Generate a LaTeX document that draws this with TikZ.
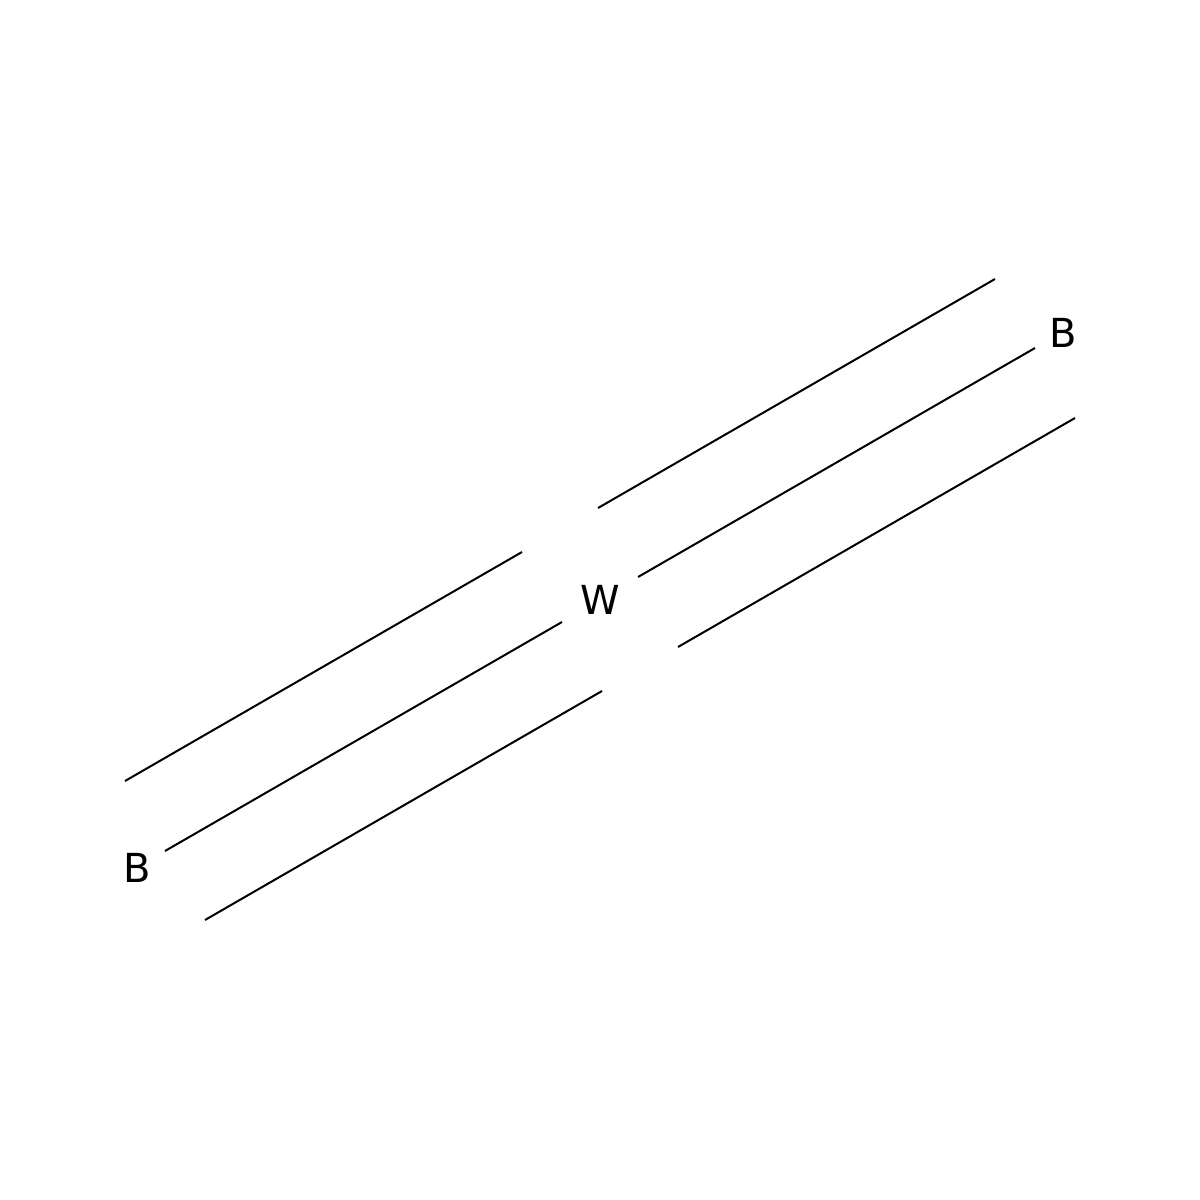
\documentclass[tikz,border=0pt]{standalone}
\usepackage{fontspec}
\setmainfont{DejaVu Sans}
\begin{document}
\begin{tikzpicture}[x=1pt,y=-1pt,
  atom/.style={inner sep=0pt,font=\fontsize{40}{40}\selectfont},
  bond/.style={line width=2pt,draw=black}]
\useasboundingbox (0,0) rectangle (1200,1200);
\node[atom] (B1) at (1063,333) {B};
\node[atom] (W) at (600,600) {W};
\node[atom] (B2) at (137,868) {B};
% right triple bond
\coordinate (r1a) at (598,508); \coordinate (r1b) at (995,279);
\coordinate (r2a) at (638,577); \coordinate (r2b) at (1035,348);
\coordinate (r3a) at (678,647); \coordinate (r3b) at (1075,418);
% left triple bond
\coordinate (l1a) at (125,781); \coordinate (l1b) at (522,552);
\coordinate (l2a) at (165,851); \coordinate (l2b) at (562,622);
\coordinate (l3a) at (205,920); \coordinate (l3b) at (602,691);
\draw[bond] (r1a) -- (r1b);
\draw[bond] (r2a) -- (r2b);
\draw[bond] (r3a) -- (r3b);
\draw[bond] (l1a) -- (l1b);
\draw[bond] (l2a) -- (l2b);
\draw[bond] (l3a) -- (l3b);
\end{tikzpicture}
\end{document}
